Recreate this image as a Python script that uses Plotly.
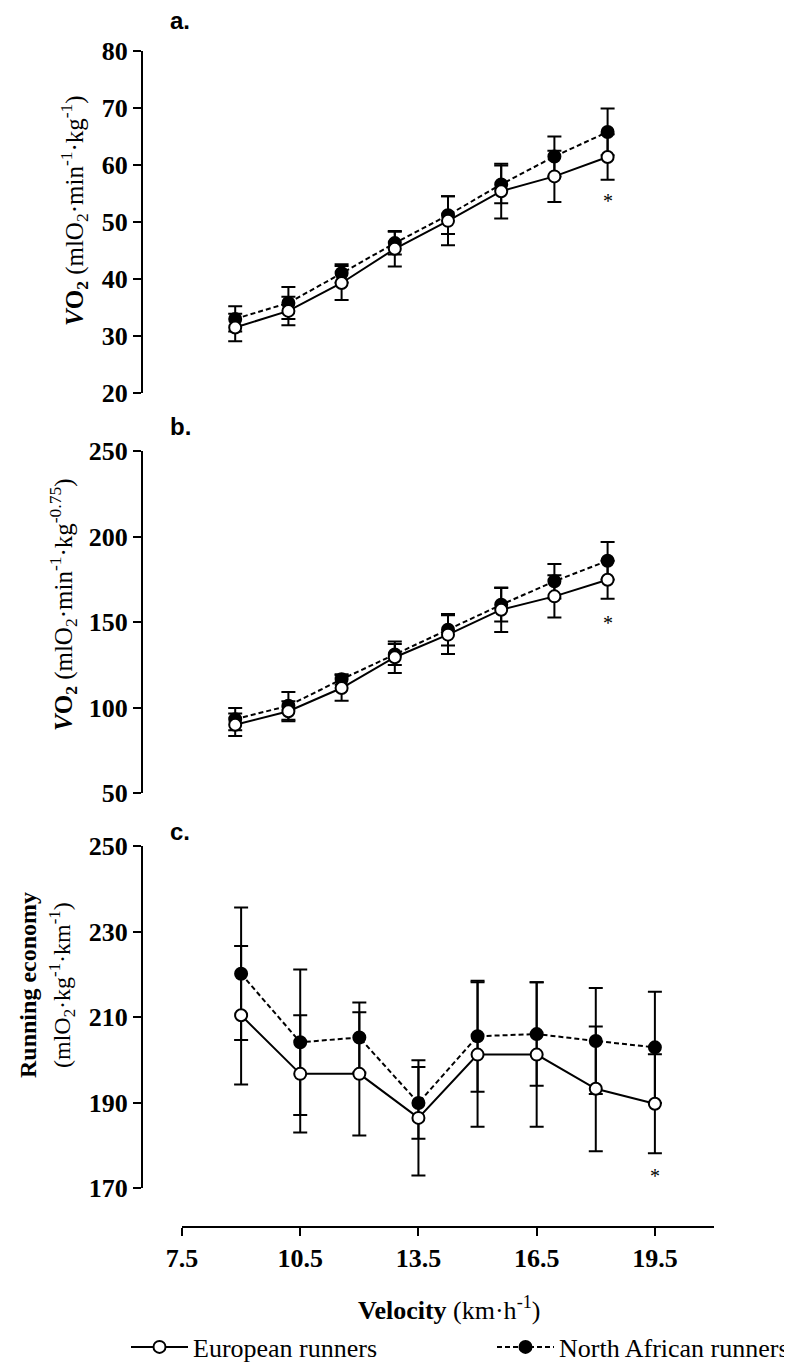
import plotly.graph_objects as go

# ---------------- data ----------------
velocity = [9, 10.5, 12, 13.5, 15, 16.5, 18, 19.5]

# a. VO2 (mlO2·min-1·kg-1)
eu_a = [31.5, 34.4, 39.3, 45.3, 50.2, 55.4, 58.0, 61.4]
eu_a_sd = [2.4, 2.5, 3.0, 3.1, 4.3, 4.8, 4.5, 4.0]
na_a = [33.0, 35.8, 41.0, 46.3, 51.2, 56.6, 61.5, 65.8]
na_a_sd = [2.2, 2.8, 1.6, 2.0, 3.3, 3.3, 3.5, 4.1]

# b. VO2 (mlO2·min-1·kg-0.75)
eu_b = [89.9, 97.8, 111.4, 129.4, 142.6, 157.2, 165.0, 174.7]
eu_b_sd = [6.6, 5.9, 7.4, 9.2, 11.3, 13.0, 12.3, 11.1]
na_b = [93.2, 101.0, 116.5, 131.0, 145.5, 160.1, 173.8, 185.8]
na_b_sd = [6.5, 8.1, 3.0, 6.1, 9.2, 9.8, 10.1, 11.0]

# c. Running economy (mlO2·kg-1·km-1)
eu_c = [210.4, 196.7, 196.7, 186.4, 201.2, 201.2, 193.2, 189.7]
eu_c_sd = [16.2, 13.7, 14.4, 13.5, 16.9, 16.9, 14.6, 11.6]
na_c = [220.1, 204.1, 205.2, 189.9, 205.5, 206.0, 204.4, 202.9]
na_c_sd = [15.5, 17.0, 8.2, 8.4, 13.0, 12.1, 12.4, 13.0]

yticks_a = [20, 30, 40, 50, 60, 70, 80]
yticks_b = [50, 100, 150, 200, 250]
yticks_c = [170, 190, 210, 230, 250]
xticks = [7.5, 10.5, 13.5, 16.5, 19.5]
xticklabels = ["7.5", "10.5", "13.5", "16.5", "19.5"]

sig_x = 19.5
sig_a, sig_b, sig_c = 53.7, 149.4, 172.7

# ---------------- layout helpers ----------------
W, H = 792, 1368


def px_x(p):
    return p / W


def px_y(p):
    return 1 - p / H


SERIF = "Liberation Serif"
SANS = "Liberation Sans"

fig = go.Figure()

panels = [
    (eu_a, eu_a_sd, na_a, na_a_sd, "x", "y"),
    (eu_b, eu_b_sd, na_b, na_b_sd, "x2", "y2"),
    (eu_c, eu_c_sd, na_c, na_c_sd, "x3", "y3"),
]

for i, (eu, eu_sd, na, na_sd, xa, ya) in enumerate(panels):
    show = i == 2
    fig.add_trace(go.Scatter(
        x=velocity, y=na, name="North African runners",
        mode="lines+markers",
        line=dict(color="black", width=2, dash="5px,3px"),
        marker=dict(symbol="circle", size=12, color="black",
                    line=dict(color="black", width=2)),
        error_y=dict(type="data", array=na_sd, color="black",
                     thickness=2, width=7),
        showlegend=show, legend="legend2", xaxis=xa, yaxis=ya,
    ))
    fig.add_trace(go.Scatter(
        x=velocity, y=eu, name="European runners",
        mode="lines+markers",
        line=dict(color="black", width=2),
        marker=dict(symbol="circle", size=12, color="white",
                    line=dict(color="black", width=2)),
        error_y=dict(type="data", array=eu_sd, color="black",
                     thickness=2, width=7),
        showlegend=show, legend="legend", xaxis=xa, yaxis=ya,
    ))

xdom = [px_x(174), px_x(706)]
tickfont = dict(family=SERIF, size=26, color="black", weight="bold")

yax_common = dict(
    anchor="free", position=px_x(134), showline=True, linewidth=2,
    linecolor="black", ticks="outside", ticklen=8, tickwidth=2,
    tickcolor="black", showgrid=False, zeroline=False, tickfont=tickfont,
)

legend_common = dict(
    yanchor="middle", xanchor="left", orientation="h",
    font=dict(family=SERIF, size=26, color="black"),
    bgcolor="rgba(0,0,0,0)", itemwidth=57,
)

fig.update_layout(
    width=W, height=H,
    margin=dict(l=0, r=0, t=0, b=0, autoexpand=False),
    paper_bgcolor="white", plot_bgcolor="white",
    xaxis=dict(domain=xdom, range=[7.5, 22.5], visible=False, anchor="y"),
    xaxis2=dict(domain=xdom, range=[7.5, 22.5], visible=False, anchor="y2"),
    xaxis3=dict(domain=xdom, range=[7.5, 21], anchor="free",
                position=px_y(1219), showline=True, linewidth=2,
                linecolor="black", ticks="outside", ticklen=8, tickwidth=2,
                tickcolor="black", showgrid=False, zeroline=False,
                tickvals=xticks, ticktext=xticklabels, tickfont=tickfont),
    yaxis=dict(domain=[px_y(385), px_y(43)], range=[20, 80],
               tickvals=yticks_a, **yax_common),
    yaxis2=dict(domain=[px_y(785), px_y(443)], range=[50, 250],
                tickvals=yticks_b, **yax_common),
    yaxis3=dict(domain=[px_y(1180), px_y(838)], range=[170, 250],
                tickvals=yticks_c, **yax_common),
    legend=dict(x=px_x(118), y=px_y(1339), **legend_common),
    legend2=dict(x=px_x(484), y=px_y(1339), **legend_common),
    showlegend=True,
)

annotations = []
# panel letters
for txt, yc in [("a.", 12), ("b.", 418), ("c.", 823)]:
    annotations.append(dict(
        text="<b>%s</b>" % txt, xref="paper", yref="paper",
        x=px_x(172), y=px_y(yc), xanchor="center", yanchor="middle",
        showarrow=False, font=dict(family=SANS, size=24, color="black")))

# y-axis titles
annotations.append(dict(
    text="<b><i>V</i>O<sub>2</sub></b> (mlO<sub>2</sub>·min<sup>-1</sup>·kg<sup>-1</sup>)",
    xref="paper", yref="paper", x=px_x(66), y=px_y(203), textangle=-90,
    xanchor="center", yanchor="middle", showarrow=False,
    font=dict(family=SERIF, size=25, color="black")))
annotations.append(dict(
    text="<b><i>V</i>O<sub>2</sub></b> (mlO<sub>2</sub>·min<sup>-1</sup>·kg<sup>-0.75</sup>)",
    xref="paper", yref="paper", x=px_x(55), y=px_y(597), textangle=-90,
    xanchor="center", yanchor="middle", showarrow=False,
    font=dict(family=SERIF, size=25, color="black")))
annotations.append(dict(
    text="<b>Running economy</b>",
    xref="paper", yref="paper", x=px_x(20), y=px_y(977), textangle=-90,
    xanchor="center", yanchor="middle", showarrow=False,
    font=dict(family=SERIF, size=24, color="black")))
annotations.append(dict(
    text="(mlO<sub>2</sub>·kg<sup>-1</sup>·km<sup>-1</sup>)",
    xref="paper", yref="paper", x=px_x(54), y=px_y(977), textangle=-90,
    xanchor="center", yanchor="middle", showarrow=False,
    font=dict(family=SERIF, size=24, color="black")))

# x-axis title
annotations.append(dict(
    text="<b>Velocity</b> (km·h<sup>-1</sup>)",
    xref="paper", yref="paper", x=px_x(441), y=px_y(1300),
    xanchor="center", yanchor="middle", showarrow=False,
    font=dict(family=SERIF, size=26, color="black")))

# significance asterisks
for xr, yr, yv in [("x", "y", sig_a), ("x2", "y2", sig_b), ("x3", "y3", sig_c)]:
    annotations.append(dict(
        text="*", xref=xr, yref=yr, x=sig_x, y=yv,
        xanchor="center", yanchor="middle", showarrow=False,
        font=dict(family=SERIF, size=20, color="black")))

fig.update_layout(annotations=annotations)

fig.write_html("out.html")
